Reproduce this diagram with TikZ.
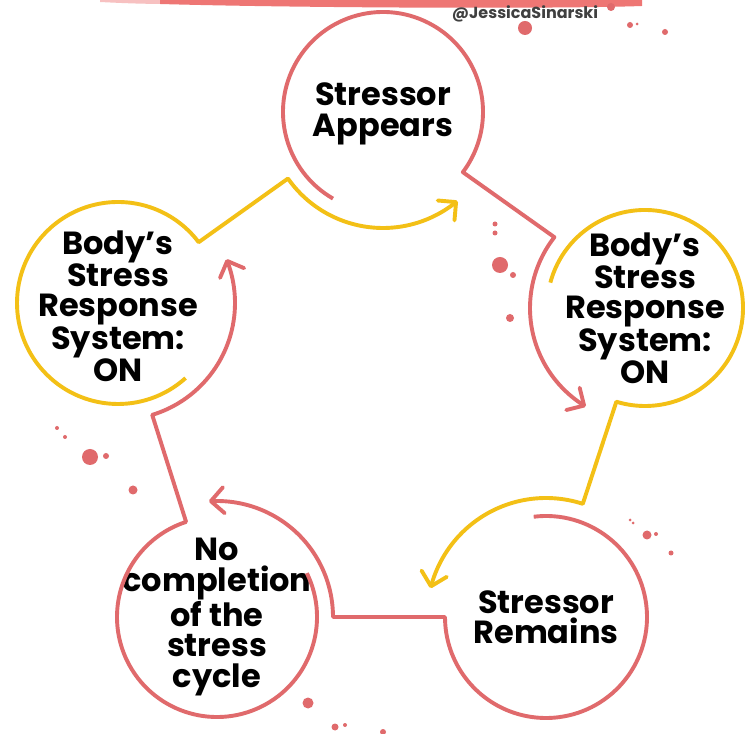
\documentclass[tikz,border=0pt]{standalone}
\usepackage{fontspec}
\setsansfont{Poppins}
\usetikzlibrary{calc,arrows.meta,bending}

\definecolor{cyclered}{RGB}{224,106,108}
\definecolor{cycleyellow}{RGB}{243,192,22}
\definecolor{bandred}{RGB}{238,118,116}

\tikzset{
  stage/.style={align=center, inner sep=0pt, text=black,
    font=\sffamily\bfseries\fontsize{32pt}{30.5pt}\selectfont},
  loopline/.style={line width=3.9pt, line join=round,
    -{Straight Barb[length=13pt,width=26pt,round]}},
  redloop/.style={loopline, cyclered},
  yellowloop/.style={loopline, cycleyellow},
  splat/.style={fill=cyclered},
}

\begin{document}
\begin{tikzpicture}[x=1pt,y=1pt]
\useasboundingbox (0,0) rectangle (746,733);
\fill[white] (0,0) rectangle (746,733);

% Brush band and handle
\fill[bandred!45] (100,733) -- (170,733) -- (170,729) .. controls (140,729) and (120,730) .. (100,731) -- cycle;
\fill[bandred] (160,733) -- (642,733) -- (642,727) .. controls (560,724) and (300,725) .. (160,729) -- cycle;
\node[font=\sffamily\bfseries\fontsize{16pt}{16pt}\selectfont, text=black!75] (handle) at (525,719) {@JessicaSinarski};

% Stages of the cycle
\node[stage] (appears) at (383,619) {Stressor\\Appears};
\node[stage] (onright) at (645,425) {Body’s\\Stress\\Response\\System:\\ON};
\node[stage] (remains) at (546,116) {Stressor\\Remains};
\node[stage] (nocomp) at (217,116) {No\\completion\\of the\\stress\\cycle};
\node[stage] (onleft) at (118,427) {Body’s\\Stress\\Response\\System:\\ON};

% Open circles running into the next stage
\draw[redloop] ($(appears)+(0,2pt)+(240:100pt)$) arc[start angle=240, end angle=-37, radius=100pt]
  -- ($(onright)+(142:115pt)$) arc[start angle=142, end angle=239, radius=115pt];
\draw[yellowloop] ($(onright)+(165:98pt)$) arc[start angle=165, end angle=-107, radius=98pt]
  -- ($(remains)+(72:119pt)$) arc[start angle=72, end angle=166, radius=119pt];
\draw[redloop] ($(remains)+(97:101pt)$) arc[start angle=97, end angle=-180, radius=101pt]
  -- ($(nocomp)+(0:116pt)$) arc[start angle=0, end angle=94, radius=116pt];
\draw[redloop] ($(nocomp)+(26:100pt)$) arc[start angle=26, end angle=-252, radius=100pt]
  -- ($(onleft)+(0,3pt)+(-73:117pt)$) arc[start angle=-73, end angle=22, radius=117pt];
\draw[yellowloop] ($(onleft)+(0,3pt)+(-48:101pt)$) arc[start angle=-48, end angle=-323, radius=101pt]
  -- ($(appears)+(0,2pt)+(215:116pt)$) arc[start angle=215, end angle=310, radius=116pt];

% Paint splatters
\fill[splat] (525,705) circle (7pt) (611,726) circle (4pt) (630,708) circle (3pt)
  (637,709) circle (1.5pt) (665,701) circle (3pt);
\fill[splat] (495,509) circle (2.5pt) (495,500) circle (2.5pt) (500,468) circle (8pt)
  (513,458) circle (3pt) (510,415) circle (4pt);
\fill[splat] (57,305) circle (2pt) (65,296) circle (2pt) (90,276) circle (8pt)
  (106,277) circle (3pt) (133,243) circle (4.5pt);
\fill[splat] (308,30) circle (5.5pt) (335,6) circle (3.5pt) (345,8) circle (2pt)
  (383,1) circle (3pt);
\fill[splat] (630,213) circle (1.5pt) (633,210) circle (1.5pt) (647,198) circle (4.5pt)
  (656,199) circle (2pt) (671,180) circle (2.5pt);
\end{tikzpicture}
\end{document}
